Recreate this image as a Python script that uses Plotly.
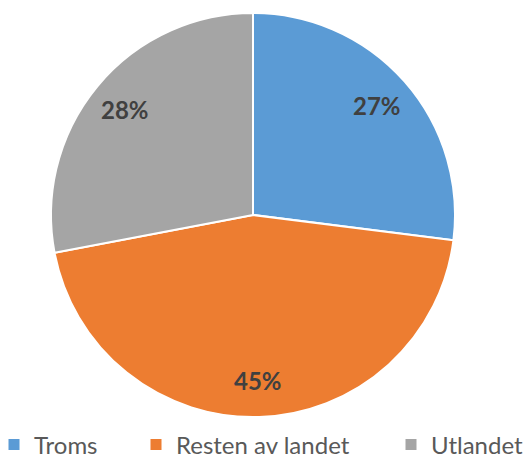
import math
import plotly.graph_objects as go

labels = ["Troms", "Resten av landet", "Utlandet"]
values = [27, 45, 28]
colors = ["#5B9BD5", "#ED7D31", "#A5A5A5"]

W, H = 527, 459
cx, cy, r = 253, 215, 202

fig = go.Figure(go.Pie(
    labels=labels,
    values=values,
    sort=False,
    direction="clockwise",
    rotation=0,
    marker=dict(colors=colors, line=dict(color="white", width=2)),
    textinfo="none",
    domain=dict(x=[(cx - r) / W, (cx + r) / W], y=[(H - cy - r) / H, (H - cy + r) / H]),
    hoverinfo="label+percent",
    showlegend=False,
))

# percentage labels placed at slice mid-angles
total = sum(values)
cum = 0
for v in values:
    mid = (cum + v / 2) / total * 2 * math.pi
    cum += v
    lx = cx + 0.82 * r * math.sin(mid)
    ly = cy - 0.82 * r * math.cos(mid)
    fig.add_annotation(
        x=lx / W, y=1 - ly / H, xref="paper", yref="paper",
        text=f"{round(v / total * 100)}%", showarrow=False,
        xanchor="center", yanchor="middle",
        font=dict(family="Lato", size=24, color="#404040", weight="bold"),
    )

# legend entries, one legend each so spacing matches
leg_x = [6, 148, 403]
for i, (lab, col) in enumerate(zip(labels, colors)):
    key = "legend" if i == 0 else f"legend{i + 1}"
    fig.add_trace(go.Scatter(
        x=[None], y=[None], mode="markers", name=lab,
        marker=dict(symbol="square", size=11, color=col),
        legend=key, showlegend=True,
    ))
    fig.update_layout({key: dict(
        x=(leg_x[i] - 12) / W, xanchor="left",
        y=1 - 445 / H, yanchor="middle",
        font=dict(family="Lato", size=24, color="#595959"),
        itemwidth=30, bgcolor="rgba(0,0,0,0)",
    )})

fig.update_layout(
    width=W, height=H,
    margin=dict(l=0, r=0, t=0, b=0, autoexpand=False),
    paper_bgcolor="white",
    plot_bgcolor="white",
    xaxis=dict(visible=False),
    yaxis=dict(visible=False),
)

fig.write_html("out.html", config={"displayModeBar": False},
               post_script="document.body.style.margin='0';")
